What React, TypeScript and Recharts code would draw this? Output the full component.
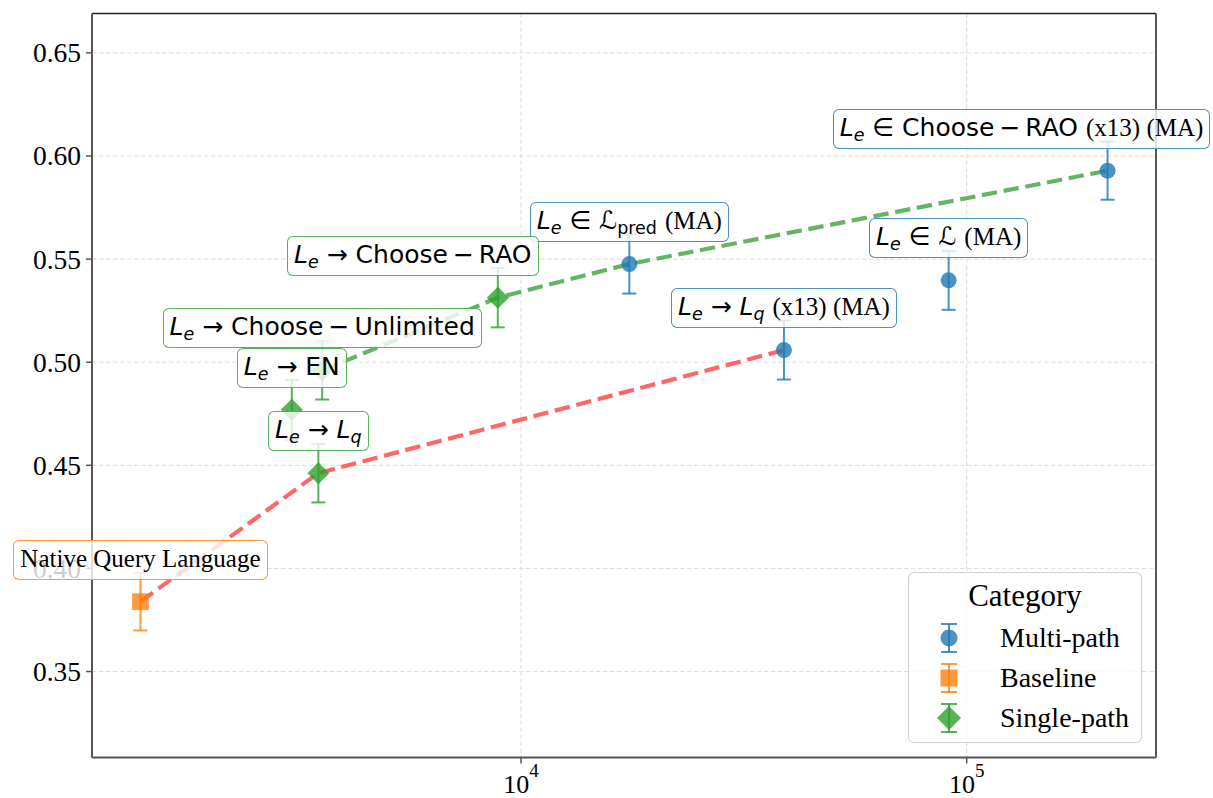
import React from 'react';
import { ScatterChart, Scatter, XAxis, YAxis, CartesianGrid, ErrorBar, Legend, ReferenceLine } from 'recharts';

const SERIF = "'Liberation Serif', 'Times New Roman', serif";
const SANS = "'DejaVu Sans', sans-serif";

// multi-path runs
const multiKeys = ['pred', 'lq13', 'all', 'rao13'];
const multiCost = [17500, 38900, 91100, 207000];
const multiScore = [0.5476, 0.5059, 0.5397, 0.5929];
const multiErr = [0.0143, 0.0143, 0.0143, 0.0141];

// baseline
const baselineKeys = ['native'];
const baselineCost = [1400];
const baselineScore = [0.3839];
const baselineErr = [0.014];

// single-path runs
const singleKeys = ['en', 'lq', 'unlimited', 'rao'];
const singleCost = [3060, 3510, 3580, 8870];
const singleScore = [0.4769, 0.4462, 0.496, 0.5313];
const singleErr = [0.0145, 0.0142, 0.0141, 0.0144];

// dashed trend lines, as lists of point keys
const redTrend = ['native', 'lq', 'lq13'];
const greenTrend = ['unlimited', 'rao', 'pred', 'rao13'];

const categories = ['Multi-path', 'Baseline', 'Single-path'];
const xTicks = [10000, 100000];
const yTicks = [0.35, 0.4, 0.45, 0.5, 0.55, 0.6, 0.65];

const colors: Record<string, string> = {
  'Multi-path': '#1f77b4',
  Baseline: '#ff7f0e',
  'Single-path': '#2ca02c',
};
const errColors: Record<string, string> = {
  'Multi-path': 'rgba(31,119,180,0.8)',
  Baseline: 'rgba(255,127,14,0.8)',
  'Single-path': 'rgba(44,160,44,0.8)',
};

const toRows = (keys: string[], xs: number[], ys: number[], errs: number[], cat: string) =>
  keys.map((key, i) => ({ key, x: xs[i], y: ys[i], err: errs[i], cat }));

const multiRows = toRows(multiKeys, multiCost, multiScore, multiErr, 'Multi-path');
const baselineRows = toRows(baselineKeys, baselineCost, baselineScore, baselineErr, 'Baseline');
const singleRows = toRows(singleKeys, singleCost, singleScore, singleErr, 'Single-path');
const allRows = [...multiRows, ...baselineRows, ...singleRows];
const byKey = (k: string) => allRows.find((r) => r.key === k)!;
const redRows = redTrend.map(byKey);
const greenRows = greenTrend.map(byKey);

const sub = (t: string, italic = true) => (
  <span style={{ fontSize: '0.7em', fontStyle: italic ? 'italic' : 'normal', verticalAlign: '-0.28em', lineHeight: 0 }}>{t}</span>
);
const Le = (
  <>
    <i>L</i>
    {sub('e')}
  </>
);
const serif = (t: string) => <span style={{ fontFamily: SERIF }}>{t}</span>;
const calL = '\u2112';

const labelText: Record<string, React.ReactNode> = {
  pred: <>{Le} ∈ {calL}{sub('pred', false)} {serif('(MA)')}</>,
  lq13: <>{Le} → <i>L</i>{sub('q')} {serif('(x13) (MA)')}</>,
  all: <>{Le} ∈ {calL} {serif('(MA)')}</>,
  rao13: <>{Le} ∈ Choose{'\u2009'}−{'\u2009'}RAO {serif('(x13) (MA)')}</>,
  native: serif('Native Query Language'),
  en: <>{Le} → EN</>,
  lq: <>{Le} → <i>L</i>{sub('q')}</>,
  unlimited: <>{Le} → Choose{'\u2009'}−{'\u2009'}Unlimited</>,
  rao: <>{Le} → Choose{'\u2009'}−{'\u2009'}RAO</>,
};
const labelShift: Record<string, number> = { rao13: -86, rao: -85 };

const Circle = (p: any) => <circle cx={p.cx} cy={p.cy} r={8} fill="#1f77b4" fillOpacity={0.8} />;
const Square = (p: any) => (
  <rect x={p.cx - 8.3} y={p.cy - 8.3} width={16.6} height={16.6} fill="#ff7f0e" fillOpacity={0.8} />
);
const Diamond = (p: any) => (
  <polygon
    points={`${p.cx},${p.cy - 11} ${p.cx + 11},${p.cy} ${p.cx},${p.cy + 11} ${p.cx - 11},${p.cy}`}
    fill="#2ca02c"
    fillOpacity={0.8}
  />
);
const Nothing = () => <g />;

const LabelBox = (p: any) => {
  const row = p.payload;
  const cx = p.cx + (labelShift[row.key] || 0);
  const cy = p.cy - 42;
  return (
    <foreignObject x={cx - 250} y={cy - 30} width={500} height={60}>
      <div
        style={{ width: '100%', height: '100%', display: 'flex', alignItems: 'center', justifyContent: 'center' }}
      >
        <span
          style={{
            fontFamily: SANS,
            fontSize: 25,
            lineHeight: '27px',
            whiteSpace: 'nowrap',
            color: '#000',
            padding: '4px 6px 7px',
            border: `1.3px solid ${errColors[row.cat]}`,
            borderRadius: 6,
            background: 'rgba(255,255,255,0.8)',
          }}
        >
          {labelText[row.key]}
        </span>
      </div>
    </foreignObject>
  );
};

const PowerTick = (p: any) => {
  const exp = Math.round(Math.log10(p.payload.value));
  return (
    <text x={p.x} y={p.y + 27.5} textAnchor="middle" fontFamily={SERIF} fontSize={26} fill="#000">
      10
      <tspan dy={-16} fontSize={19}>
        {exp}
      </tspan>
    </text>
  );
};

const ValueTick = (p: any) => (
  <text x={p.x} y={p.y + 9.5} textAnchor="end" fontFamily={SERIF} fontSize={27.5} fill="#000">
    {Number(p.payload.value).toFixed(2)}
  </text>
);

const LegendIcon = ({ cat }: { cat: string }) => {
  const c = errColors[cat];
  const shape =
    cat === 'Multi-path' ? (
      <circle cx={18} cy={20} r={8.5} fill={colors[cat]} fillOpacity={0.8} />
    ) : cat === 'Baseline' ? (
      <rect x={9.5} y={11.5} width={17} height={17} fill={colors[cat]} fillOpacity={0.8} />
    ) : (
      <polygon points="18,8 30,20 18,32 6,20" fill={colors[cat]} fillOpacity={0.8} />
    );
  return (
    <svg width={36} height={40} style={{ position: 'absolute', left: 22, top: 0 }}>
      <line x1={18} y1={6} x2={18} y2={34} stroke={c} strokeWidth={2} />
      <line x1={10} y1={6} x2={26} y2={6} stroke={c} strokeWidth={2} />
      <line x1={10} y1={34} x2={26} y2={34} stroke={c} strokeWidth={2} />
      {shape}
    </svg>
  );
};

const rowTops = [44.7, 85.3, 124.7];

const LegendBox = () => (
  <div
    style={{
      position: 'relative',
      width: 234,
      height: 171,
      boxSizing: 'border-box',
      border: '1.3px solid #d0d0d0',
      borderRadius: 6,
      background: 'rgba(255,255,255,0.8)',
      fontFamily: SERIF,
      color: '#000',
    }}
  >
    <div style={{ position: 'absolute', left: 0, right: 0, top: 4, textAlign: 'center', fontSize: 31, lineHeight: '38px' }}>
      Category
    </div>
    {categories.map((c, i) => (
      <div key={c} style={{ position: 'absolute', left: 0, top: rowTops[i], width: '100%', height: 40 }}>
        <LegendIcon cat={c} />
        <span style={{ position: 'absolute', left: 91, top: 0, lineHeight: '40px', fontSize: 28, whiteSpace: 'nowrap' }}>
          {c}
        </span>
      </div>
    ))}
  </div>
);

const X_DOMAIN = [1090, 265900];
const Y_DOMAIN = [0.3083, 0.6691];
const dash = '15.4 6.7';

export default function App() {
  return (
    <div style={{ position: 'absolute', left: 0, top: 0 }}>
      <ScatterChart width={1213} height={798} margin={{ top: 13.5, right: 57, bottom: 0, left: 0 }}>
        <CartesianGrid stroke="#dcdcdc" strokeDasharray="4.5 2.5" />
        <XAxis
          type="number"
          dataKey="x"
          scale="log"
          domain={X_DOMAIN}
          ticks={xTicks}
          height={40.5}
          tick={<PowerTick />}
          tickSize={6}
          tickLine={{ stroke: '#555', strokeWidth: 1.5 }}
          axisLine={{ stroke: '#555', strokeWidth: 2 }}
        />
        <YAxis
          type="number"
          dataKey="y"
          domain={Y_DOMAIN}
          ticks={yTicks}
          width={92}
          tick={<ValueTick />}
          tickSize={6}
          tickMargin={5}
          tickLine={{ stroke: '#555', strokeWidth: 1.5 }}
          axisLine={{ stroke: '#555', strokeWidth: 2 }}
        />
        <ReferenceLine y={Y_DOMAIN[1]} stroke="#222" strokeWidth={1.5} />
        <ReferenceLine x={X_DOMAIN[1]} stroke="#222" strokeWidth={1.5} />
        <Scatter
          data={redRows}
          line={{ stroke: '#ff6666', strokeWidth: 4.2, strokeDasharray: dash }}
          shape={Nothing}
          legendType="none"
          isAnimationActive={false}
        />
        <Scatter
          data={greenRows}
          line={{ stroke: '#66b366', strokeWidth: 4.2, strokeDasharray: dash }}
          shape={Nothing}
          legendType="none"
          isAnimationActive={false}
        />
        <Scatter name="Multi-path" data={multiRows} shape={Circle} isAnimationActive={false}>
          <ErrorBar dataKey="err" direction="y" width={7} stroke={errColors['Multi-path']} strokeWidth={2} />
        </Scatter>
        <Scatter name="Baseline" data={baselineRows} shape={Square} isAnimationActive={false}>
          <ErrorBar dataKey="err" direction="y" width={7} stroke={errColors.Baseline} strokeWidth={2} />
        </Scatter>
        <Scatter name="Single-path" data={singleRows} shape={Diamond} isAnimationActive={false}>
          <ErrorBar dataKey="err" direction="y" width={7} stroke={errColors['Single-path']} strokeWidth={2} />
        </Scatter>
        <Scatter
          data={allRows}
          shape={LabelBox}
          legendType="none"
          isAnimationActive={false}
          {...({ zIndex: 2500 } as any)}
        />
        <Legend
          layout="horizontal"
          verticalAlign="middle"
          align="center"
          content={() => <LegendBox />}
          wrapperStyle={{ position: 'absolute', left: 908, top: 572, width: 234, height: 171 }}
        />
      </ScatterChart>
    </div>
  );
}
